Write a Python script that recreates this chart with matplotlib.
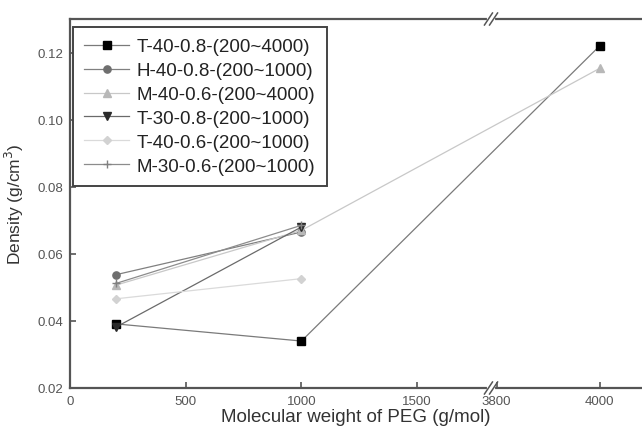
import numpy as np
import matplotlib
matplotlib.use('Agg')
import matplotlib.pyplot as plt

plt.rcParams['font.family'] = ['Liberation Sans', 'DejaVu Sans']

# PEG molecular weight (g/mol) and measured density (g/cm3)
mw_long = [200, 1000, 4000]
mw_short = [200, 1000]

t40_08 = [0.0391, 0.0340, 0.1220]
h40_08 = [0.0538, 0.0665]
m40_06 = [0.0507, 0.0670, 0.1153]
t30_08 = [0.0382, 0.0680]
t40_06 = [0.0466, 0.0526]
m30_06 = [0.0512, 0.0685]

labels = ['T-40-0.8-(200~4000)', 'H-40-0.8-(200~1000)', 'M-40-0.6-(200~4000)',
          'T-30-0.8-(200~1000)', 'T-40-0.6-(200~1000)', 'M-30-0.6-(200~1000)']

xticks = [0, 500, 1000, 1500, 3800, 4000]
yticks = [0.02, 0.04, 0.06, 0.08, 0.10, 0.12]

# broken x axis: 0..B1 linear, B1..B2 squeezed into G, B2.. stretched by R
B1, B2, G, R = 1808, 3794, 22, 2.227


def forward(x):
    x = np.asarray(x, float)
    return np.where(x <= B1, x,
                    np.where(x >= B2, B1 + G + (x - B2) * R,
                             B1 + (x - B1) * G / (B2 - B1)))


def inverse(u):
    u = np.asarray(u, float)
    return np.where(u <= B1, u,
                    np.where(u >= B1 + G, B2 + (u - B1 - G) / R,
                             B1 + (u - B1) * (B2 - B1) / G))


fig = plt.figure(figsize=(6.42, 4.27), dpi=100)
ax = fig.add_axes([70 / 642, 38 / 427, 572 / 642, 369 / 427])
ax.set_xscale('function', functions=(forward, inverse))

series = [
    (mw_long, t40_08, 's', '#000000', '#7a7a7a', 5.2),
    (mw_short, h40_08, 'o', '#6e6e6e', '#808080', 5.2),
    (mw_long, m40_06, '^', '#b8b8b8', '#c8c8c8', 5.2),
    (mw_short, t30_08, 'v', '#2a2a2a', '#6a6a6a', 5.8),
    (mw_short, t40_06, 'D', '#d2d2d2', '#dadada', 4.3),
    (mw_short, m30_06, '+', '#808080', '#8c8c8c', 6),
]
for (x, y, mk, mc, lc, ms), lab in zip(series, labels):
    ax.plot(x, y, color=lc, lw=0.9, marker=mk, ms=ms, mfc=mc, mec=mc,
            label=lab)

ax.set_xlim(0, 4082)
ax.set_ylim(0.02, 0.130)
ax.set_xticks(xticks)
ax.set_xticklabels([str(t) for t in xticks])
ax.set_yticks(yticks)
ax.set_yticklabels(['%.2f' % t for t in yticks])
ax.tick_params(direction='in', length=4, width=1.2, color='#555555',
               labelsize=9.5, labelcolor='#555555', pad=5)

for side in ['left', 'bottom', 'top']:
    ax.spines[side].set_color('#555555')
    ax.spines[side].set_linewidth(1.6)
ax.spines['right'].set_visible(False)

ax.set_xlabel('Molecular weight of PEG (g/mol)', fontsize=13.5,
              color='#333333', labelpad=1)
ax.set_ylabel('Density (g/cm$^3$)', fontsize=12.5, color='#333333',
              labelpad=8)

# break marks on the top and bottom spines
bx0 = ax.transAxes.inverted().transform(ax.transData.transform((B1, 0.05)))[0]
bx1 = ax.transAxes.inverted().transform(ax.transData.transform((B2, 0.05)))[0]
dx, dy = 4 / 572, 6 / 369
for yb in (0, 1):
    ax.plot([bx0 + 0.001, bx1 - 0.001], [yb, yb], color='white', lw=3,
            transform=ax.transAxes, clip_on=False, zorder=5)
    for xb in (bx0, bx1):
        ax.plot([xb - dx, xb + dx], [yb - dy, yb + dy], color='#555555',
                lw=1.1, transform=ax.transAxes, clip_on=False, zorder=6)

leg = ax.legend(loc='upper left', bbox_to_anchor=(73 / 642, 1 - 28 / 427),
                bbox_transform=fig.transFigure, borderaxespad=0,
                fontsize=13.5, frameon=True, fancybox=False, framealpha=1,
                edgecolor='#444444', handlelength=2.4, handletextpad=0.4,
                labelspacing=0.36, borderpad=0.6)
leg.get_frame().set_linewidth(1.4)
for t in leg.get_texts():
    t.set_color('#222222')

fig.savefig('out.png', dpi=100)
